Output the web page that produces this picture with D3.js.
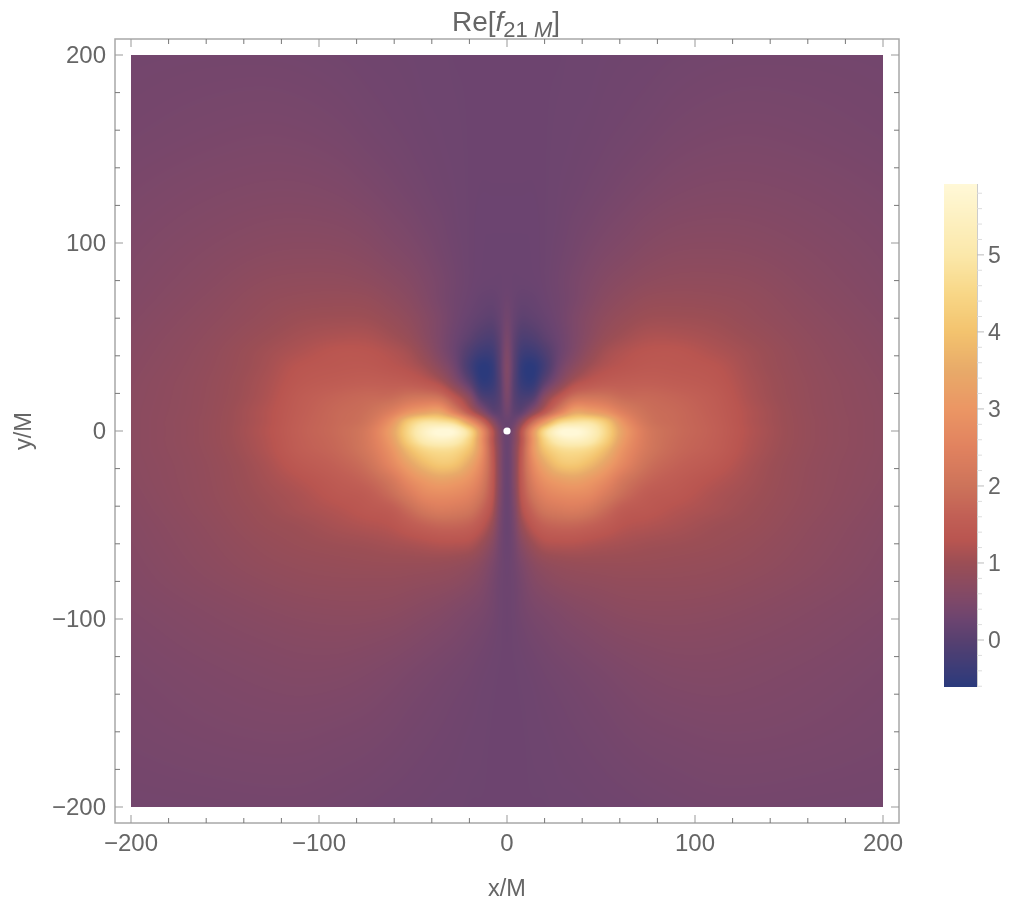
<!DOCTYPE html>
<html><head><meta charset="utf-8">
<script src="https://cdn.jsdelivr.net/npm/d3@7"></script>
<style>
html,body{margin:0;padding:0;background:#fff;width:1030px;height:910px;overflow:hidden}
#wrap{position:relative;width:1030px;height:910px}
canvas,svg{position:absolute;left:0;top:0}
text{font-family:"Liberation Sans",Arial,sans-serif;fill:#666}
</style></head><body><div id="wrap"><canvas id="c" width="1030" height="910"></canvas><svg id="s" width="1030" height="910"></svg></div>
<script>
const xLabel = "x/M", yLabel = "y/M";
const majorTicks = [-200,-100,0,100,200];
const barTicks = [0,1,2,3,4,5];
const gridAbsX = [0,4,8,14,20,28,36,44,52,62,75,90,110,130,160,200];
const gridY = [200,160,130,110,95,80,70,60,50,42,34,26,18,10,5,0,-5,-10,-18,-26,-34,-42,-50,-60,-70,-80,-95,-110,-130,-160,-200];
// field values for x >= 0; the field is mirror-symmetric about x = 0
const fieldRight = [
[.28,.28,.28,.28,.28,.28,.29,.29,.3,.31,.32,.34,.36,.37,.37,.36],
[.28,.28,.28,.28,.28,.29,.3,.31,.33,.35,.38,.42,.45,.46,.44,.4],
[.27,.27,.27,.27,.28,.3,.32,.35,.38,.42,.47,.52,.55,.55,.52,.46],
[.26,.26,.26,.26,.28,.31,.36,.4,.45,.5,.57,.62,.64,.63,.58,.5],
[.25,.25,.25,.26,.28,.33,.39,.46,.52,.58,.66,.71,.72,.7,.63,.53],
[.25,.24,.24,.25,.28,.35,.44,.53,.62,.7,.78,.82,.82,.79,.68,.56],
[.28,.22,.18,.2,.26,.34,.45,.58,.7,.8,.9,.92,.9,.85,.72,.58],
[.34,.18,.08,.12,.2,.33,.5,.66,.8,.92,1.02,1.03,1.0,.9,.76,.61],
[.42,.1,-.12,-.08,.08,.28,.5,.72,.92,1.06,1.18,1.18,1.1,.98,.8,.64],
[.5,.04,-.32,-.34,-.12,.25,.55,.85,1.08,1.22,1.33,1.34,1.2,1.05,.83,.66],
[.55,0,-.5,-.6,-.25,.35,.75,1.05,1.22,1.33,1.42,1.4,1.32,1.08,.85,.68],
[.52,-.04,-.45,-.5,.05,.65,1.15,1.38,1.5,1.55,1.58,1.52,1.4,1.12,.87,.7],
[.45,0,-.2,-.05,.7,1.4,2.0,2.1,2.05,1.85,1.8,1.7,1.5,1.15,.88,.71],
[.32,.1,.15,.75,1.45,2.5,3.4,3.3,3.0,2.4,1.95,1.8,1.55,1.2,.89,.72],
[.22,.3,.8,1.9,3.0,4.4,4.8,4.8,4.2,2.9,2.05,1.82,1.58,1.2,.9,.72],
[.22,.55,1.4,3.0,4.6,5.8,5.95,5.5,4.6,3.2,2.2,1.85,1.6,1.22,.9,.72],
[.22,.6,1.4,3.0,4.4,5.3,5.5,5.2,4.4,3.1,2.2,1.82,1.58,1.2,.9,.72],
[.22,.65,1.5,3.0,4.0,4.6,4.7,4.5,3.9,2.9,2.15,1.78,1.55,1.18,.89,.72],
[.22,.65,1.55,2.7,3.4,4.0,4.1,3.8,3.3,2.6,1.95,1.65,1.42,1.12,.87,.71],
[.22,.65,1.5,2.4,2.9,3.2,3.3,3.1,2.75,2.15,1.72,1.5,1.27,1.08,.86,.7],
[.22,.6,1.4,2.1,2.5,2.7,2.75,2.65,2.3,1.85,1.5,1.38,1.17,1.04,.85,.68],
[.22,.52,1.2,1.75,2.1,2.25,2.3,2.15,1.85,1.5,1.38,1.24,1.12,1.0,.83,.66],
[.22,.45,.95,1.4,1.65,1.75,1.75,1.65,1.5,1.3,1.22,1.14,1.03,.96,.8,.64],
[.24,.38,.68,1.0,1.2,1.25,1.25,1.2,1.15,1.1,1.05,1.02,.97,.9,.77,.62],
[.26,.34,.5,.72,.85,.92,.95,.96,.96,.96,.95,.93,.9,.85,.74,.6],
[.27,.31,.42,.58,.68,.76,.8,.82,.84,.86,.86,.86,.84,.79,.7,.58],
[.27,.3,.37,.45,.5,.56,.62,.66,.7,.74,.76,.76,.74,.7,.63,.54],
[.27,.29,.32,.37,.41,.46,.5,.54,.58,.62,.65,.67,.66,.63,.58,.5],
[.28,.28,.29,.31,.34,.37,.4,.43,.46,.5,.54,.57,.58,.56,.52,.46],
[.28,.28,.28,.29,.3,.32,.34,.36,.38,.41,.44,.46,.48,.48,.46,.42],
[.28,.28,.28,.28,.28,.29,.29,.3,.31,.32,.34,.36,.38,.38,.37,.36]];
const colorStops = [-0.61,0,.25,.5,.75,1,1.3,1.6,2,2.5,3,3.5,4,4.5,5,5.92];
const colorValues = ["#2b3a7c","#574070","#6b4470","#7d4869","#8c4b5f","#9b4e55","#b95550","#c15f55","#cd735a","#e1825f","#eb9664","#e8aa69","#f3c36e","#f8d787","#fbe8aa","#fff8d7"];

const x = d3.scaleLinear().domain([-200,200]).range([131,883]);
const y = d3.scaleLinear().domain([-200,200]).range([807,55]);
const color = d3.scaleLinear().domain(colorStops).range(colorValues).clamp(true);
const barY = d3.scaleLinear().domain([-0.61,5.92]).range([687,184]);

const gridX = gridAbsX.slice(1).reverse().map(d=>-d).concat(gridAbsX);
const rows = fieldRight.map(r=>r.slice(1).reverse().concat(r));

// Cubic Hermite shading between the grid samples
function tangents(xs,v){return v.map((_,i)=>{
  const a=Math.max(i-1,0),b=Math.min(i+1,v.length-1);
  return (v[b]-v[a])/(xs[b]-xs[a]);});}
function hermite(xs,v,m,t){
  let i=Math.min(d3.bisectRight(xs,t)-1,xs.length-2); if(i<0)i=0;
  const h=xs[i+1]-xs[i],s=(t-xs[i])/h,s2=s*s,s3=s2*s;
  return (2*s3-3*s2+1)*v[i]+(s3-2*s2+s)*h*m[i]+(-2*s3+3*s2)*v[i+1]+(s3-s2)*h*m[i+1];
}
const ctx=document.getElementById("c").getContext("2d");
const x0=Math.round(x.range()[0]),x1=Math.round(x.range()[1]),y0=Math.round(y.range()[1]),y1=Math.round(y.range()[0]);
const w=x1-x0,h=y1-y0;
const yAsc=gridY.slice().reverse();
const rowsAsc=rows.slice().reverse();
const img=ctx.createImageData(w,h);
const rowTangents=rowsAsc.map(r=>tangents(gridX,r));
for(let i=0;i<w;i++){
  const dx=x.invert(x0+i+.5);
  const col=rowsAsc.map((r,k)=>hermite(gridX,r,rowTangents[k],dx));
  const m=tangents(yAsc,col);
  for(let j=0;j<h;j++){
    const v=hermite(yAsc,col,m,y.invert(y0+j+.5));
    const c=d3.rgb(color(v));
    const k=(j*w+i)*4;
    img.data[k]=c.r;img.data[k+1]=c.g;img.data[k+2]=c.b;img.data[k+3]=255;
  }
}
ctx.putImageData(img,x0,y0);
// colour bar
d3.range(184,687).forEach(py=>{ctx.fillStyle=color(barY.invert(py+.5));ctx.fillRect(944,py,33,1);});

const svg=d3.select("#s");
const minorT=d3.range(-200,201,20);
const frame={l:115,r:899,t:39,b:823};
const g=svg.append("g").attr("fill","none");
g.append("rect").attr("x",frame.l).attr("y",frame.t).attr("width",frame.r-frame.l).attr("height",frame.b-frame.t)
 .attr("stroke","#a8a8a8").attr("stroke-width",1.5);
minorT.forEach(v=>{
  const maj=majorTicks.includes(v),col=maj?"#999":"#777",L=maj?8:5;
  [[x(v),frame.b,x(v),frame.b-L],[x(v),frame.t,x(v),frame.t+L],[frame.l,y(v),frame.l+L,y(v)],[frame.r,y(v),frame.r-L,y(v)]].forEach(a=>{
    g.append("line").attr("x1",a[0]).attr("y1",a[1]).attr("x2",a[2]).attr("y2",a[3]).attr("stroke",col).attr("stroke-width",1);
  });
});
const fmt=v=>(v<0?"\u2212":"")+Math.abs(v);
svg.selectAll(".xl").data(majorTicks).join("text").attr("x",d=>x(d)).attr("y",851).attr("text-anchor","middle").attr("font-size",24).text(fmt);
svg.selectAll(".yl").data(majorTicks).join("text").attr("x",106).attr("y",d=>y(d)+8).attr("text-anchor","end").attr("font-size",24).text(fmt);
svg.append("text").attr("x",507).attr("y",896).attr("text-anchor","middle").attr("font-size",23.5).text(xLabel);
svg.append("text").attr("transform","translate(31,431) rotate(-90)").attr("text-anchor","middle").attr("font-size",23.5).text(yLabel);
const t=svg.append("text").attr("x",506).attr("y",31).attr("text-anchor","middle").attr("font-size",28);
t.append("tspan").text("Re[");
t.append("tspan").attr("font-style","italic").text("f");
t.append("tspan").attr("font-size",22).attr("dy",5.5).text("21 ");
t.append("tspan").attr("font-size",22).attr("font-style","italic").text("M");
t.append("tspan").attr("dy",-5.5).text("]");
svg.append("circle").attr("cx",x(0)).attr("cy",y(0)).attr("r",3.6).attr("fill","#fff");
const bg=svg.append("g");
bg.append("line").attr("x1",977.5).attr("x2",977.5).attr("y1",184).attr("y2",687).attr("stroke","#ccc");
d3.range(-0.6,5.81,0.2).forEach(v=>{
  const maj=Math.abs(v-Math.round(v))<.01;
  bg.append("line").attr("x1",977).attr("x2",maj?984:982).attr("y1",barY(v)).attr("y2",barY(v)).attr("stroke",maj?"#bbb":"#ddd");
});
bg.selectAll("text").data(barTicks).join("text").attr("x",988).attr("y",d=>barY(d)+8).attr("font-size",23).text(d=>d);
</script></body></html>
